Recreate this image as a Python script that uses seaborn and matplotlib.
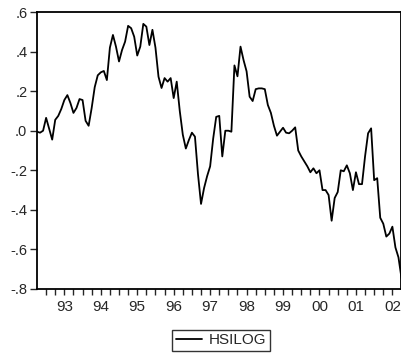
import numpy as np
import pandas as pd
import matplotlib
matplotlib.use("Agg")
import matplotlib.pyplot as plt
import seaborn as sns

start_year = 1992.75  # October 1992, monthly observations
hsilog = [
    -0.005, -0.01, 0.0, 0.065, 0.01, -0.045, 0.055, 0.075, 0.11, 0.155,
    0.18, 0.14, 0.09, 0.115, 0.16, 0.155, 0.05, 0.025, 0.115, 0.22,
    0.28, 0.295, 0.302, 0.256, 0.42, 0.484, 0.425, 0.35, 0.408, 0.45,
    0.53, 0.518, 0.475, 0.38, 0.425, 0.54, 0.526, 0.433, 0.51, 0.42,
    0.273, 0.216, 0.266, 0.248, 0.266, 0.165, 0.248, 0.10, -0.02, -0.09,
    -0.047, -0.01, -0.03, -0.22, -0.37, -0.29, -0.23, -0.18, -0.04, 0.07,
    0.075, -0.13, 0.0, 0.0, -0.005, 0.33, 0.275, 0.425, 0.357, 0.30,
    0.172, 0.15, 0.21, 0.214, 0.214, 0.21, 0.13, 0.09, 0.025, -0.025,
    -0.005, 0.015, -0.01, -0.013, 0.0, 0.017, -0.10, -0.13, -0.155, -0.18,
    -0.21, -0.19, -0.215, -0.20, -0.30, -0.30, -0.325, -0.455, -0.34, -0.31,
    -0.20, -0.205, -0.175, -0.215, -0.30, -0.21, -0.27, -0.27, -0.13, -0.013,
    0.012, -0.25, -0.24, -0.44, -0.47, -0.535, -0.52, -0.485, -0.59, -0.64,
    -0.745,
]
years = list(range(1993, 2003))
year_labels = ["93", "94", "95", "96", "97", "98", "99", "00", "01", "02"]
y_ticks = [0.6, 0.4, 0.2, 0.0, -0.2, -0.4, -0.6, -0.8]
y_labels = [".6", ".4", ".2", ".0", "-.2", "-.4", "-.6", "-.8"]

t = start_year + np.arange(len(hsilog)) / 12.0
df = pd.DataFrame({"t": t, "HSILOG": hsilog})

sns.set_style("ticks")
plt.rcParams["font.family"] = ["Liberation Sans", "DejaVu Sans"]

fig = plt.figure(figsize=(4.02, 3.57), dpi=100)
ax = fig.add_axes([37 / 402, 1 - 289 / 357, 364.5 / 402, 277 / 357])
sns.lineplot(data=df, x="t", y="HSILOG", ax=ax, color="black", linewidth=1.3,
             label="HSILOG", legend=False)

ax.set_xlim(start_year, start_year + (len(hsilog) - 1) / 12.0)
ax.set_ylim(-0.8, 0.6)
ax.set_xlabel("")
ax.set_ylabel("")

ax.set_yticks(y_ticks)
ax.set_yticklabels(y_labels)
ax.set_xticks([y + 0.5 for y in years])
ax.set_xticklabels(year_labels)
quarters = np.arange(1993.0, 2002.76, 0.25)
ax.set_xticks(quarters, minor=True)
ax.xaxis.remove_overlapping_locs = False
ax.tick_params(axis="x", which="major", length=0, pad=8, labelsize=11)
ax.tick_params(axis="x", which="minor", length=4, width=1.0, direction="out")
ax.tick_params(axis="y", length=5, width=1.0, direction="out", pad=2, labelsize=10.5)

for s in ax.spines.values():
    s.set_visible(True)
    s.set_linewidth(1.3)
    s.set_color("black")

leg = fig.legend(handles=ax.get_lines(), labels=["HSILOG"], loc="center",
                 bbox_to_anchor=(221 / 402, 1 - 340.5 / 357), fontsize=11,
                 frameon=True, fancybox=False, handlelength=1.7,
                 borderpad=0.25, handletextpad=0.45, borderaxespad=0)
leg.get_frame().set_edgecolor("black")
leg.get_frame().set_linewidth(1.0)

fig.savefig("out.png", dpi=100)
